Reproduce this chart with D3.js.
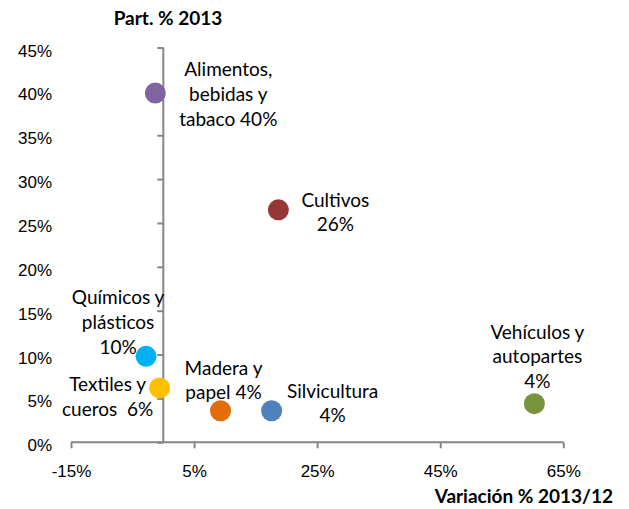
<!DOCTYPE html>
<html>
<head>
<meta charset="utf-8">
<script src="https://cdn.jsdelivr.net/npm/d3@7"></script>
<style>
  body { margin: 0; background: #fff; }
  svg { font-family: Lato, "Open Sans", sans-serif; }
</style>
</head>
<body>
<div id="chart"></div>
<script>
// sectors, growth 2013/12 (x, %) and share 2013 (y, %)
var sectors = ["Alimentos", "Cultivos", "Químicos", "Textiles", "Madera", "Silvicultura", "Vehículos"];
var variacion = [-1.3, 18.7, -2.8, -0.6, 9.3, 17.6, 60.3];
var participacion = [39.8, 26.5, 9.8, 6.2, 3.6, 3.6, 4.4];
var labels = [
  ["Alimentos,", "bebidas y", "tabaco 40%"],
  ["Cultivos", "26%"],
  ["Químicos y", "plásticos", "10%"],
  ["Textiles y", "cueros  6%"],
  ["Madera y", "papel 4%"],
  ["Silvicultura", "4%"],
  ["Vehículos y", "autopartes", "4%"]
];
var colors = ["#8064A2", "#953735", "#00B0F0", "#FFC000", "#E46C0A", "#4F81BD", "#77933C"];
var xTicks = [-15, 5, 25, 45, 65];
var yTicks = [0, 5, 10, 15, 20, 25, 30, 35, 40, 45];

// label placement relative to the marker (px)
var labelOffset = {
  "Alimentos": [73, -17],
  "Cultivos": [57, -3],
  "Químicos": [-28, -52],
  "Textiles": [-52, 3],
  "Madera": [3, -36],
  "Silvicultura": [61, -13],
  "Vehículos": [3, -65]
};

var width = 629;
var height = 509;

var svg = d3.select("#chart").append("svg")
  .attr("width", width)
  .attr("height", height);

var x = d3.scaleLinear().domain([-15, 65]).range([71, 563.3]);
var y = d3.scaleLinear().domain([0, 45]).range([442.3, 47.5]);

var axisColor = "#868686";
var fmt = function (d) { return d + "%"; };

// x axis along y = 0
var gx = svg.append("g")
  .attr("transform", "translate(0," + y(0) + ")")
  .call(d3.axisBottom(x).tickValues(xTicks).tickFormat(fmt).tickSize(6).tickPadding(17));

// y axis along x = 0
var gy = svg.append("g")
  .attr("transform", "translate(" + x(0) + ",0)")
  .call(d3.axisLeft(y).tickValues(yTicks).tickFormat(fmt).tickSize(6).tickPadding(0));

[gx, gy].forEach(function (g) {
  g.select(".domain").attr("stroke", axisColor).attr("stroke-width", 2);
  g.selectAll(".tick line").attr("stroke", axisColor).attr("stroke-width", 2);
  g.selectAll(".tick text").attr("fill", "#000").style("font-size", "17px");
});
gx.select(".domain").attr("d", "M" + x(-15) + ",0H" + x(65));
gy.select(".domain").attr("d", "M0," + y(45) + "V" + y(0));
gx.selectAll(".tick text").attr("dy", "0.71em");
// y labels sit away from the axis at the left edge
gy.selectAll(".tick text").attr("x", 52 - x(0)).attr("dy", "0.5em");

// axis titles
svg.append("text")
  .attr("x", 168).attr("y", 25)
  .attr("text-anchor", "middle")
  .style("font-weight", "bold").style("font-size", "19px")
  .text("Part. % 2013");

svg.append("text")
  .attr("x", 613).attr("y", 503)
  .attr("text-anchor", "end")
  .style("font-weight", "bold").style("font-size", "19px")
  .text("Variación % 2013/12");

var data = sectors.map(function (s, i) {
  return { name: s, x: variacion[i], y: participacion[i], lines: labels[i], color: colors[i] };
});

svg.append("g").selectAll("circle")
  .data(data)
  .enter()
  .append("circle")
  .attr("cx", function (d) { return x(d.x); })
  .attr("cy", function (d) { return y(d.y); })
  .attr("r", 10.5)
  .attr("fill", function (d) { return d.color; });

var lab = svg.append("g").selectAll("text")
  .data(data)
  .enter()
  .append("text")
  .attr("text-anchor", "middle")
  .style("font-size", "19px")
  .style("white-space", "pre")
  .attr("fill", "#000")
  .attr("transform", function (d) {
    var o = labelOffset[d.name];
    return "translate(" + (x(d.x) + o[0]) + "," + (y(d.y) + o[1]) + ")";
  });

lab.selectAll("tspan")
  .data(function (d) { return d.lines; })
  .enter()
  .append("tspan")
  .attr("x", 0)
  .attr("y", function (d, i) { return i * 24.7; })
  .text(function (d) { return d; });
</script>
</body>
</html>
